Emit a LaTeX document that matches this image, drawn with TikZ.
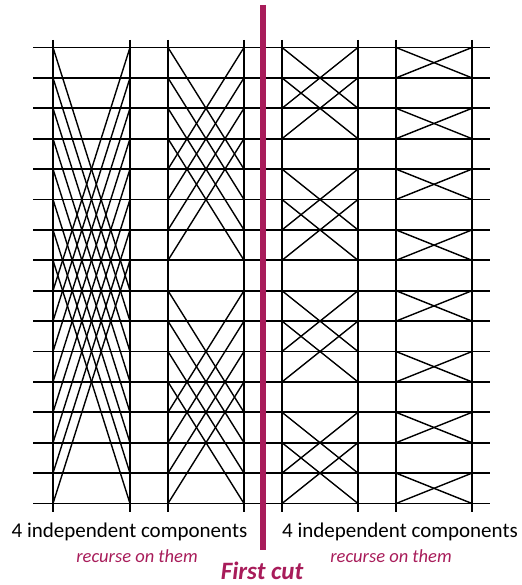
\documentclass[tikz,border=0pt]{standalone}
\usepackage{fontspec}
\setmainfont{Carlito}
\definecolor{cutmag}{RGB}{168,28,90}
\begin{document}
\begin{tikzpicture}[x=1pt,y=-1pt,
  wire/.style={line width=1.8pt},
  colline/.style={line width=1.8pt},
  diag/.style={line width=1.4pt},
  cutbar/.style={line width=6.5pt,draw=cutmag},
  comptext/.style={font=\fontsize{21}{25}\selectfont,text=black,inner sep=0pt},
  rectext/.style={font=\fontsize{18.5}{22}\selectfont\itshape,text=cutmag,inner sep=0pt},
  cuttext/.style={font=\fontsize{25}{29}\selectfont\bfseries\itshape,text=cutmag,inner sep=0pt}]
\useasboundingbox (0,0) rectangle (521,585);
% coordinates
\foreach \c/\x in {0/53,1/130,2/168,3/244,4/282,5/358,6/396,7/472} {
  \coordinate (vt\c) at (\x,40);
  \coordinate (vb\c) at (\x,512);
  \foreach \i in {0,...,15} {
    \coordinate (p\c-\i) at (\x,{47.5+30.4*\i});
  }
}
\foreach \i in {0,...,15} {
  \coordinate (wl\i) at (33,{47.5+30.4*\i});
  \coordinate (wr\i) at (490,{47.5+30.4*\i});
}
% wires
\foreach \i in {0,...,15} \draw[wire] (wl\i) -- (wr\i);
% column lines
\foreach \c in {0,...,7} \draw[colline] (vt\c) -- (vb\c);
% butterfly diagonals
\foreach \s/\d in {0/8,1/4,2/2,3/1} {
  \pgfmathtruncatemacro\a{2*\s}
  \pgfmathtruncatemacro\b{2*\s+1}
  \foreach \i in {0,...,15} {
    \pgfmathtruncatemacro\j{\i+\d*(1-2*mod(int(\i/\d),2))}
    \draw[diag] (p\a-\i) -- (p\b-\j);
  }
}
% cut bar
\coordinate (cuttop) at (262.8,5);
\coordinate (cutbot) at (262.8,550);
\draw[cutbar] (cuttop) -- (cutbot);
% texts
\node[comptext] (compL) at (129.5,532) {4 independent components};
\node[comptext] (compR) at (400,532) {4 independent components};
\node[rectext] (recL) at (137,556) {recurse on them};
\node[rectext] (recR) at (391,556) {recurse on them};
\node[cuttext] (cut) at (262,570.5) {First cut};
\end{tikzpicture}
\end{document}
